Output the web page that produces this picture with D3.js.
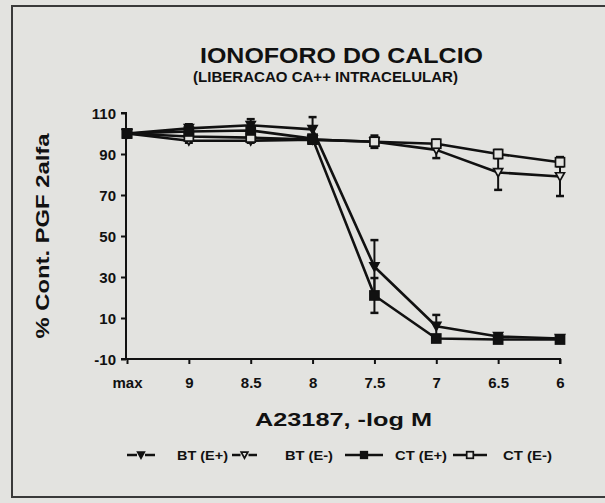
<!DOCTYPE html>
<html><head><meta charset="utf-8">
<script src="https://cdn.jsdelivr.net/npm/d3@7"></script>
<style>
html,body{margin:0;padding:0;background:#e3e3e0;}
svg{display:block;}
text{font-family:"Liberation Sans",Arial,Helvetica,sans-serif;font-weight:bold;fill:#111;}
</style></head>
<body>
<svg id="c" width="605" height="503"></svg>
<script>
const categories = ["max","9","8.5","8","7.5","7","6.5","6"];
const yTicks = [-10,10,30,50,70,90,110];
const seriesNames = ["BT (E+)","BT (E-)","CT (E+)","CT (E-)"];
const btEplus  = [100, 102.5, 104, 102, 35, 6, 1, 0];
const btEminus = [100, 96.5, 96.5, 97, 96, 92, 81, 79];
const ctEplus  = [100, 101, 101.5, 97.5, 21, 0, -0.5, -0.5];
const ctEminus = [100, 98.5, 98, 97, 96, 95, 90, 86];
const btEplusErr  = [0, 2, 3, 6, 13, 5.5, 0, 0];
const btEminusErr = [0, 1, 1, 1, 3, 4, 8.5, 9.5];
const ctEplusErr  = [0, 1, 1, 1, 8.5, 0, 0, 0];
const ctEminusErr = [0, 1, 1, 1, 2, 2, 2, 2];

const BG = "#e3e3e0", INK = "#111";
const FONT = '"Liberation Sans",Arial,sans-serif';
const series = [
  {name: seriesNames[0], values: btEplus,  err: btEplusErr,  shape: "tri", filled: true},
  {name: seriesNames[1], values: btEminus, err: btEminusErr, shape: "tri", filled: false},
  {name: seriesNames[2], values: ctEplus,  err: ctEplusErr,  shape: "sq",  filled: true},
  {name: seriesNames[3], values: ctEminus, err: ctEminusErr, shape: "sq",  filled: false}
];

const svg = d3.select("#c");
svg.append("rect").attr("x",0).attr("y",0).attr("width",605).attr("height",503).attr("fill",BG);
svg.append("rect").attr("x",12).attr("y",6).attr("width",620).attr("height",491)
  .attr("fill","none").attr("stroke","#3a3a3a").attr("stroke-width",2);

const x = d3.scalePoint().domain(categories).range([127,560]).padding(0);
const y = d3.scaleLinear().domain([-10,110]).range([359,113]);

const yAxis = d3.axisLeft(y).tickValues(yTicks).tickSize(5).tickPadding(5).tickFormat(d=>String(d));
const gy = svg.append("g").attr("transform","translate(126,0)").call(yAxis);
gy.select(".domain").attr("stroke",INK).attr("stroke-width",2).attr("d","M-5,113H0V359H-5");
gy.selectAll(".tick line").attr("stroke",INK).attr("stroke-width",2);
gy.selectAll(".tick text").attr("font-size",15).attr("font-family",FONT)
  .attr("font-weight","bold").attr("fill",INK).attr("dy","0.36em");

const xAxis = d3.axisBottom(x).tickSize(5).tickPadding(13);
const gx = svg.append("g").attr("transform","translate(0,359)").call(xAxis);
gx.select(".domain").attr("stroke",INK).attr("stroke-width",2).attr("d","M126,0H560V5");
gx.selectAll(".tick line").attr("stroke",INK).attr("stroke-width",2);
gx.selectAll(".tick text").attr("font-size",15).attr("font-family",FONT)
  .attr("font-weight","bold").attr("fill",INK);

const line = d3.line().x((d,i)=>x(categories[i])).y(d=>y(d));
series.forEach(s=>{
  svg.append("path").attr("d",line(s.values)).attr("fill","none")
    .attr("stroke",INK).attr("stroke-width",2.6).attr("stroke-linejoin","round");
});

series.forEach(s=>{
  const g = svg.append("g");
  s.values.forEach((v,i)=>{
    const e = s.err[i]; if(!e) return;
    const cx = x(categories[i]);
    g.append("line").attr("x1",cx).attr("x2",cx).attr("y1",y(v+e)).attr("y2",y(v-e))
      .attr("stroke",INK).attr("stroke-width",2);
    [v+e, v-e].forEach(w=>{
      g.append("line").attr("x1",cx-4).attr("x2",cx+4).attr("y1",y(w)).attr("y2",y(w))
        .attr("stroke",INK).attr("stroke-width",2.5);
    });
  });
});

function marker(g, shape, filled, cx, cy, s){
  if(shape==="tri"){
    g.append("path").attr("d",`M${cx-s},${cy-s*0.85}L${cx+s},${cy-s*0.85}L${cx},${cy+s*0.95}Z`)
      .attr("fill",filled?INK:BG).attr("stroke",INK).attr("stroke-width",1.7);
  } else {
    g.append("rect").attr("x",cx-s).attr("y",cy-s).attr("width",2*s).attr("height",2*s)
      .attr("fill",filled?INK:BG).attr("stroke",INK).attr("stroke-width",1.7);
  }
}
[1,3,0,2].forEach(k=>{
  const s = series[k];
  const g = svg.append("g");
  s.values.forEach((v,i)=> marker(g, s.shape, s.filled, x(categories[i]), y(v), 4.5));
});

svg.append("text").attr("x",200).attr("y",63).attr("font-size",22)
  .attr("textLength",283).attr("lengthAdjust","spacingAndGlyphs").text("IONOFORO DO CALCIO");
svg.append("text").attr("x",193).attr("y",82).attr("font-size",15)
  .attr("textLength",265).attr("lengthAdjust","spacingAndGlyphs").text("(LIBERACAO CA++ INTRACELULAR)");
svg.append("text").attr("transform","translate(49,236) rotate(-90)").attr("text-anchor","middle")
  .attr("font-size",18).attr("textLength",205).attr("lengthAdjust","spacingAndGlyphs")
  .text("% Cont. PGF 2alfa");
svg.append("text").attr("x",255).attr("y",426).attr("font-size",19)
  .attr("textLength",177).attr("lengthAdjust","spacingAndGlyphs").text("A23187, -log M");

const legendPos = [
  {sx:[127,155], tx:177, tw:51},
  {sx:[232,257], tx:285, tw:48},
  {sx:[345,383], tx:395, tw:52},
  {sx:[453,487], tx:503, tw:49}
];
const ly = 455;
series.forEach((s,k)=>{
  const p = legendPos[k];
  const g = svg.append("g");
  const mid = (p.sx[0]+p.sx[1])/2;
  g.append("line").attr("x1",p.sx[0]).attr("x2",mid-4).attr("y1",ly).attr("y2",ly).attr("stroke",INK).attr("stroke-width",2.5);
  g.append("line").attr("x1",mid+4).attr("x2",p.sx[1]).attr("y1",ly).attr("y2",ly).attr("stroke",INK).attr("stroke-width",2.5);
  marker(g, s.shape, s.filled, mid, ly, 3.3);
  g.append("text").attr("x",p.tx).attr("y",ly+5).attr("font-size",13)
    .attr("textLength",p.tw).attr("lengthAdjust","spacingAndGlyphs").text(s.name);
});
</script>
</body></html>
